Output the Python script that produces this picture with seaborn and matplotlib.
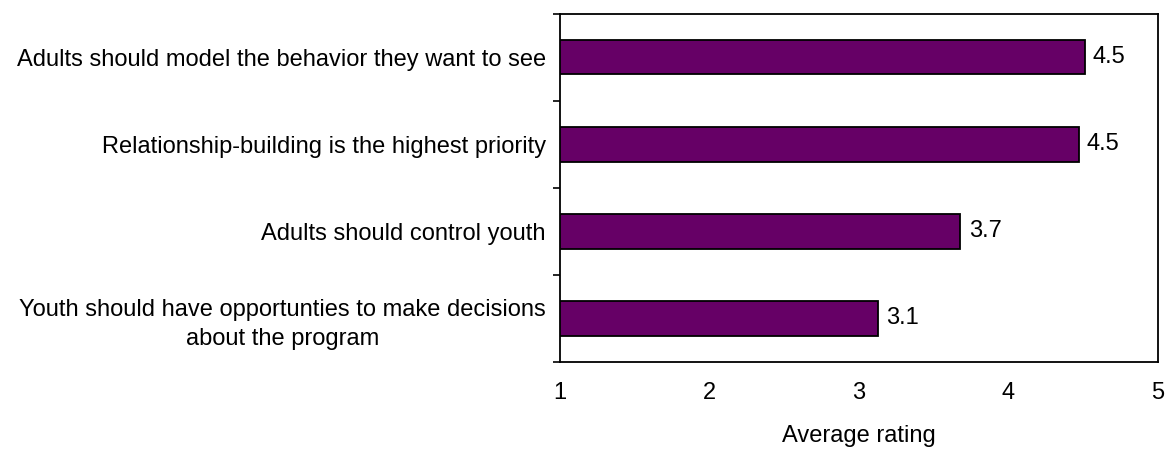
import matplotlib
matplotlib.use("Agg")
import matplotlib.pyplot as plt
import seaborn as sns
import pandas as pd

categories = [
    "Adults should model the behavior they want to see",
    "Relationship-building is the highest priority",
    "Adults should control youth",
    "Youth should have opportunties to make decisions\nabout the program",
]
ratings = [4.51, 4.47, 3.68, 3.13]
value_labels = ["4.5", "4.5", "3.7", "3.1"]
x_ticks = [1, 2, 3, 4, 5]
x_label = "Average rating"

sns.set_theme(style="white")
plt.rcParams["font.family"] = ["Liberation Sans", "DejaVu Sans"]
plt.rcParams["text.color"] = "black"
plt.rcParams["xtick.color"] = "black"
plt.rcParams["ytick.color"] = "black"
plt.rcParams["axes.labelcolor"] = "black"

FS = 17

df = pd.DataFrame({"category": categories, "rating": ratings})

fig = plt.figure(figsize=(11.66, 4.5), dpi=100)
ax = fig.add_axes([0.480, 0.196, 0.513, 0.774])

sns.barplot(data=df, x="rating", y="category", orient="h", color="#660066",
            saturation=1, width=0.4, edgecolor="black", linewidth=1.3, ax=ax)

ax.set_xlim(1, 5)
ax.set_ylim(len(categories) - 0.5, -0.5)
ax.set_xticks(x_ticks)
ax.set_xticklabels([str(t) for t in x_ticks], fontsize=FS)
ax.tick_params(axis="x", direction="out", length=5, width=1.2, color="black", pad=9.5)

# y: major ticks at category boundaries, labels at minor positions
bounds = [i - 0.5 for i in range(len(categories) + 1)]
ax.set_yticks(bounds)
ax.set_yticklabels([""] * len(bounds))
ax.set_yticks(list(range(len(categories))), minor=True)
ax.set_yticklabels(categories, minor=True, fontsize=FS, multialignment="center",
                   linespacing=1.45)
ax.tick_params(axis="y", which="major", direction="out", length=5, width=1.2, color="black", left=True)
ax.tick_params(axis="y", which="minor", length=0, pad=10)

for s in ax.spines.values():
    s.set_color("black")
    s.set_linewidth(1.3)
    s.set_visible(True)

for i, (v, lab) in enumerate(zip(ratings, value_labels)):
    ax.annotate(lab, xy=(v, i), xytext=(6, 0), textcoords="offset points",
                va="center", ha="left", fontsize=FS, color="black")

ax.set_xlabel(x_label, fontsize=FS, labelpad=15)
ax.set_ylabel("")

fig.savefig("out.png", dpi=100)
